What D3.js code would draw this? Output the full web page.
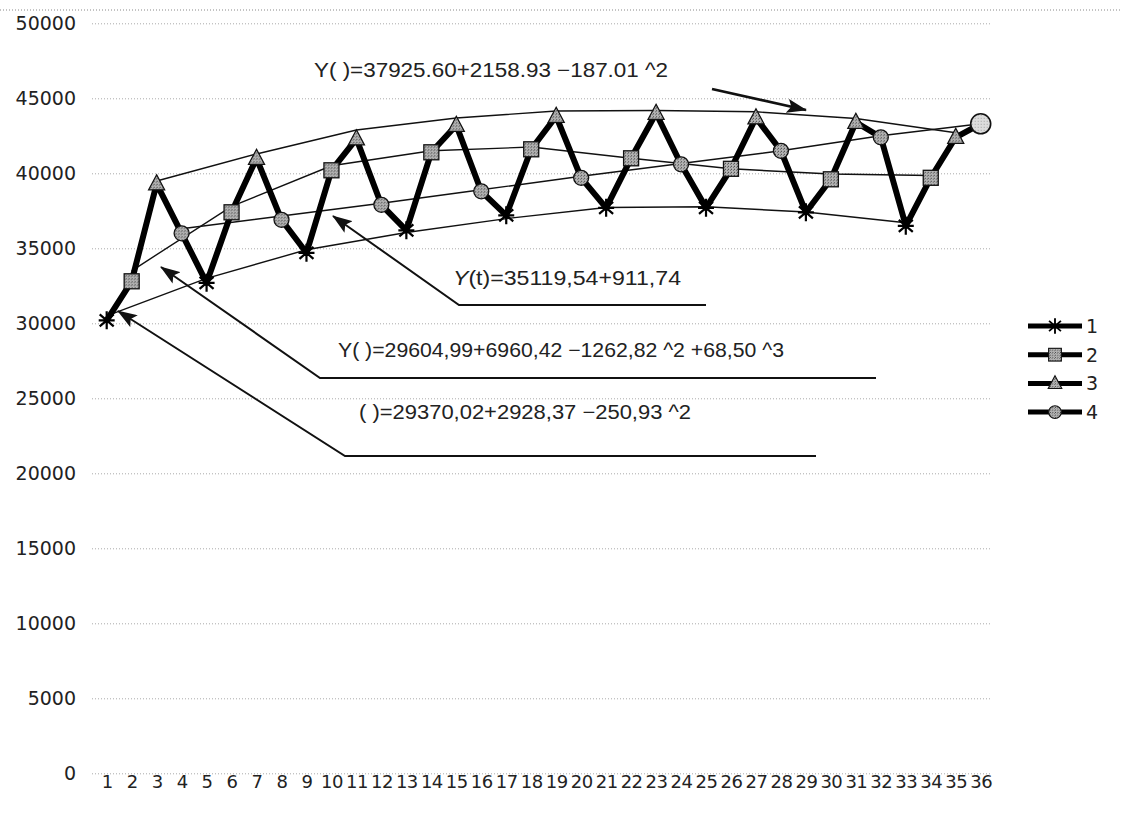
<!DOCTYPE html>
<html>
<head>
<meta charset="utf-8">
<script src="https://cdn.jsdelivr.net/npm/d3@7"></script>
<style>
  body { margin: 0; background: #fff; }
  text { fill: #222; }
</style>
</head>
<body>
<svg id="chart" width="1122" height="814"></svg>
<script>
// quarters 1..36, marker cycles through series 1-4
const categories = ["1","2","3","4","5","6","7","8","9","10","11","12","13","14","15","16","17","18",
  "19","20","21","22","23","24","25","26","27","28","29","30","31","32","33","34","35","36"];
const values = [30200, 32800, 39300, 36000, 32700, 37400, 41000, 36900, 34700, 40200, 42300, 37900,
  36200, 41400, 43200, 38800, 37200, 41600, 43800, 39700, 37700, 41000, 44000, 40600,
  37700, 40300, 43700, 41500, 37400, 39600, 43400, 42400, 36500, 39700, 42400, 43300];
const seriesNames = ["1", "2", "3", "4"];
const yTicks = [0, 5000, 10000, 15000, 20000, 25000, 30000, 35000, 40000, 45000, 50000];

// trend lines, one per series
const trend1T = ["1","5","9","13","17","21","25","29","33"];
const trend1 = [30500, 33000, 34900, 36050, 36980, 37720, 37770, 37420, 36700];
const trend2T = ["2","6","10","14","18","22","26","30","34"];
const trend2 = [33500, 37800, 40500, 41500, 41750, 41000, 40300, 39950, 39850];
const trend3T = ["3","7","11","15","19","23","27","31","35"];
const trend3 = [39490, 41290, 42890, 43690, 44150, 44190, 44100, 43650, 42700];
const trend4T = ["4","8","12","16","20","24","28","32","36"];
const trend4 = [36300, 37150, 38000, 38900, 39800, 40650, 41500, 42500, 43300];

const equations = [
  "Y( )=37925.60+2158.93 \u2212187.01 ^2",
  "(t)=35119,54+911,74",
  "Y( )=29604,99+6960,42 \u22121262,82 ^2 +68,50 ^3",
  "( )=29370,02+2928,37 \u2212250,93 ^2"
];

const svg = d3.select("#chart");

const x = d3.scalePoint().domain(categories).range([106.7, 980.7]);
const y = d3.scaleLinear().domain([0, 50000]).range([773.3, 23.3]);

// grey dithered fill like the scanned markers
const defs = svg.append("defs");
const pat = defs.append("pattern").attr("id", "dots")
  .attr("width", 3).attr("height", 3).attr("patternUnits", "userSpaceOnUse");
pat.append("rect").attr("width", 3).attr("height", 3).attr("fill", "#b4b4b4");
pat.append("rect").attr("width", 1).attr("height", 1).attr("fill", "#3a3a3a");
pat.append("rect").attr("x", 2).attr("y", 1).attr("width", 1).attr("height", 1).attr("fill", "#666");
const pat2 = defs.append("pattern").attr("id", "dotsLight")
  .attr("width", 3).attr("height", 3).attr("patternUnits", "userSpaceOnUse");
pat2.append("rect").attr("width", 3).attr("height", 3).attr("fill", "#dcdcdc");
pat2.append("rect").attr("width", 1).attr("height", 1).attr("fill", "#a0a0a0");

defs.append("marker").attr("id", "arrow")
  .attr("viewBox", "0 0 20 14").attr("refX", 19).attr("refY", 7)
  .attr("markerWidth", 20).attr("markerHeight", 14).attr("markerUnits", "userSpaceOnUse")
  .attr("orient", "auto")
  .append("path").attr("d", "M0,0 L20,7 L0,14 L4,7 Z").attr("fill", "#111");

// top border of chart area
svg.append("line").attr("x1", 0).attr("x2", 1122).attr("y1", 10).attr("y2", 10)
  .attr("stroke", "#888").attr("stroke-dasharray", "1,2");

// gridlines + y axis labels
const yAxis = d3.axisLeft(y).tickValues(yTicks).tickSize(-898).tickPadding(16).tickFormat(d3.format("d"));
const gy = svg.append("g").attr("transform", "translate(92,0)").call(yAxis);
gy.select(".domain").remove();
gy.selectAll(".tick line").attr("stroke", "#aaa").attr("stroke-dasharray", "1,2");
gy.selectAll(".tick text").attr("font-family", "DejaVu Sans").attr("font-size", 19).attr("fill", "#333");

// x axis labels
const xAxis = d3.axisBottom(x).tickSize(0).tickPadding(0);
const gx = svg.append("g").attr("transform", "translate(0,775)").call(xAxis);
gx.select(".domain").remove();
gx.selectAll(".tick text").attr("font-family", "DejaVu Sans").attr("font-size", 18)
  .attr("letter-spacing", -0.5).attr("fill", "#222");

// trend lines
const trends = [[trend1T, trend1], [trend2T, trend2], [trend3T, trend3], [trend4T, trend4]];
const line = d3.line().x(d => x(d[0])).y(d => y(d[1]));
trends.forEach(([ts, vs]) => {
  svg.append("path")
    .attr("d", line(ts.map((t, i) => [t, vs[i]])))
    .attr("fill", "none").attr("stroke", "#111").attr("stroke-width", 1.4);
});

// main zigzag
const pts = categories.map((c, i) => [c, values[i]]);
svg.append("path").attr("d", line(pts))
  .attr("fill", "none").attr("stroke", "#000").attr("stroke-width", 6)
  .attr("stroke-linejoin", "round");

function drawMarker(g, type, big) {
  if (type === 0) {
    g.append("path").attr("d", "M0,-9V9M-7,-6L7,6M-7,6L7,-6M-8,0H8")
      .attr("stroke", "#000").attr("stroke-width", 2.2);
  } else if (type === 1) {
    g.append("rect").attr("x", -7.5).attr("y", -7.5).attr("width", 15).attr("height", 15)
      .attr("fill", "url(#dots)").attr("stroke", "#111").attr("stroke-width", 1.3);
  } else if (type === 2) {
    g.append("path").attr("d", "M0,-9L8,6H-8Z")
      .attr("fill", "url(#dots)").attr("stroke", "#111").attr("stroke-width", 1.3);
  } else {
    g.append("circle").attr("r", big ? 10 : 7.5)
      .attr("fill", big ? "url(#dotsLight)" : "url(#dots)")
      .attr("stroke", "#111").attr("stroke-width", big ? 1.6 : 1.3);
  }
}

pts.forEach((d, i) => {
  const g = svg.append("g").attr("transform", `translate(${x(d[0])},${y(d[1])})`);
  drawMarker(g, i % 4, i === pts.length - 1);
});

// equations with leader lines
const notes = [
  { x: 314, y: 77, w: 354, arrow: [[712, 89], [806, 110]] },
  { x: 453, y: 285, w: 228, arrow: [[706, 305], [459, 305], [333, 216]], italic: true },
  { x: 338, y: 357, w: 446, arrow: [[876, 378], [320, 378], [161, 267]] },
  { x: 359, y: 419, w: 332, arrow: [[816, 456], [345, 456], [118, 311]] }
];
notes.forEach((n, i) => {
  const t = svg.append("text").attr("x", n.x).attr("y", n.y)
    .attr("font-family", "Liberation Sans, Arial, sans-serif").attr("font-size", 20)
    .attr("textLength", n.w).attr("lengthAdjust", "spacingAndGlyphs");
  if (n.italic) {
    t.append("tspan").attr("font-style", "italic").text("Y");
  }
  t.append("tspan").text(equations[i]);
  svg.append("path").attr("d", d3.line()(n.arrow))
    .attr("fill", "none").attr("stroke", "#111").attr("stroke-width", i === 0 ? 2.8 : 2)
    .attr("marker-end", "url(#arrow)");
});

// legend
const legend = svg.append("g").attr("transform", "translate(1028,326)");
seriesNames.forEach((s, i) => {
  const row = legend.append("g").attr("transform", `translate(0,${i * 28.7})`);
  row.append("line").attr("x1", 0).attr("x2", 54).attr("stroke", "#000").attr("stroke-width", 5);
  const m = row.append("g").attr("transform", "translate(27,0) scale(0.85)");
  drawMarker(m, i, false);
  row.append("text").attr("x", 58).attr("y", 7).attr("font-family", "DejaVu Sans")
    .attr("font-size", 19).attr("fill", "#333").text(s);
});
</script>
</body>
</html>
